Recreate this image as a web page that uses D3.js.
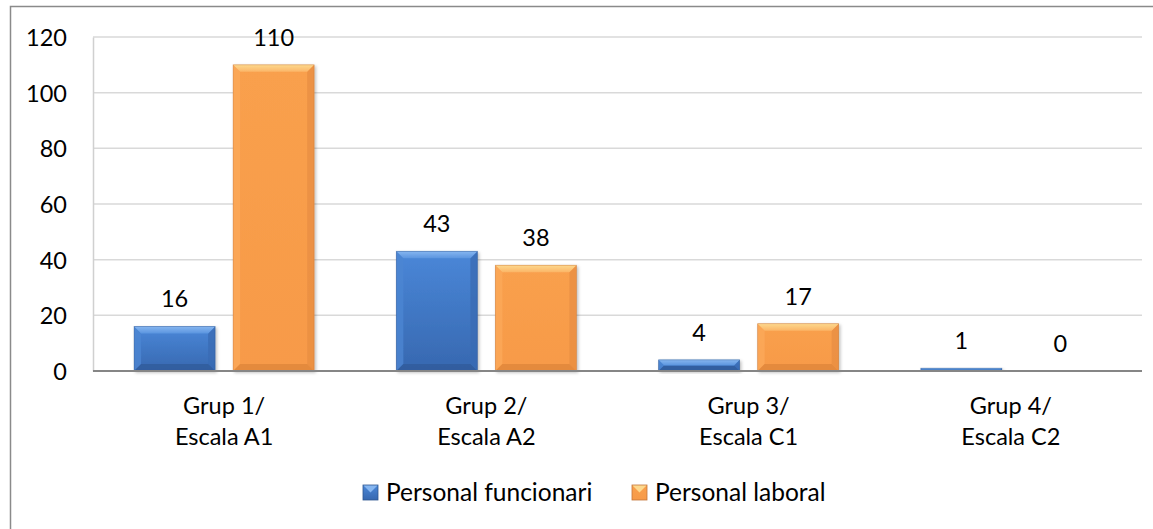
<!DOCTYPE html>
<html>
<head>
<meta charset="utf-8">
<script src="https://cdn.jsdelivr.net/npm/d3@7"></script>
<style>
  html, body { margin: 0; padding: 0; background: #fff; }
  svg { display: block; }
  text { font-family: Lato, "Open Sans", sans-serif; fill: #000; }
</style>
</head>
<body>
<svg id="chart" width="1153" height="529"></svg>
<script>
// Staff by group / scale
const categories = [
  ["Grup 1/", "Escala A1"],
  ["Grup 2/", "Escala A2"],
  ["Grup 3/", "Escala C1"],
  ["Grup 4/", "Escala C2"]
];
const seriesNames = ["Personal funcionari", "Personal laboral"];
const funcionari = [16, 43, 4, 1];
const laboral = [110, 38, 17, 0];
const yTicks = [0, 20, 40, 60, 80, 100, 120];

const palette = {
  "Personal funcionari": { top: "#4a87d8", bottom: "#3768b0", facetHi: "#86b6f0", facetHi2: "#5b95df",
                           dark: "#2f5c9c", left: "#4c86d2", right: "#3a6cb4", stroke: "#2d5690" },
  "Personal laboral":    { top: "#f9a04d", bottom: "#f79a48", facetHi: "#fdd98e", facetHi2: "#fbb567",
                           dark: "#e1873c", left: "#fba95a", right: "#e98f42", stroke: "#c4763a" }
};

const svg = d3.select("#chart");
const W = 1153, H = 529;
const plot = { left: 93, right: 1142, top: 37, bottom: 371 };

// Outer chart frame
svg.append("rect")
  .attr("x", 10.5).attr("y", 6.5)
  .attr("width", W + 10).attr("height", H + 10)
  .attr("fill", "#fff").attr("stroke", "#8a8a8a").attr("stroke-width", 1.5);

const defs = svg.append("defs");
const shadow = defs.append("filter").attr("id", "shadow")
  .attr("x", "-10%").attr("y", "-10%").attr("width", "130%").attr("height", "130%");
shadow.append("feDropShadow").attr("dx", 1.5).attr("dy", 1.5)
  .attr("stdDeviation", 1.5).attr("flood-color", "#000").attr("flood-opacity", 0.25);

seriesNames.forEach((name, k) => {
  const c = palette[name];
  const body = defs.append("linearGradient").attr("id", "body" + k)
    .attr("x1", 0).attr("y1", 0).attr("x2", 0).attr("y2", 1);
  body.append("stop").attr("offset", "0%").attr("stop-color", c.top);
  body.append("stop").attr("offset", "100%").attr("stop-color", c.bottom);
  const facet = defs.append("linearGradient").attr("id", "facet" + k)
    .attr("x1", 0).attr("y1", 0).attr("x2", 0).attr("y2", 1);
  facet.append("stop").attr("offset", "0%").attr("stop-color", c.facetHi);
  facet.append("stop").attr("offset", "100%").attr("stop-color", c.facetHi2);
});

const x0 = d3.scaleBand().domain(d3.range(categories.length))
  .range([plot.left, plot.right]).paddingInner(0).paddingOuter(0);
const x1 = d3.scaleBand().domain(seriesNames)
  .range([0, x0.bandwidth()]).paddingInner(0.182).paddingOuter(0.415);
const y = d3.scaleLinear().domain([0, 120]).range([plot.bottom, plot.top]);

// Horizontal gridlines
svg.append("g").selectAll("line").data(yTicks.filter(t => t > 0)).join("line")
  .attr("x1", plot.left).attr("x2", plot.right)
  .attr("y1", d => y(d)).attr("y2", d => y(d))
  .attr("stroke", "#d9d9d9").attr("stroke-width", 1.5);

// Y axis
const yAxis = d3.axisLeft(y).tickValues(yTicks).tickSize(0).tickPadding(26);
const gy = svg.append("g").attr("transform", `translate(${plot.left},0)`).call(yAxis);
gy.select(".domain").attr("stroke", "#d0d0d0").attr("stroke-width", 1.5);
gy.selectAll("text").attr("font-size", 23.5).attr("font-family", "Lato, sans-serif").attr("fill", "#000")
  .attr("dy", "0.36em");

// Bars with bevelled edges
const bevel = 7;
function drawBar(g, xPos, w, v, name, k) {
  const c = palette[name];
  const top = y(v), bot = y(0), h = bot - top;
  if (h <= 0) return;
  const b = Math.min(bevel, h / 2, w / 2);
  const bg = g.append("g").attr("filter", "url(#shadow)");
  bg.append("rect").attr("x", xPos).attr("y", top).attr("width", w).attr("height", h).attr("fill", `url(#body${k})`);
  const L = xPos, R = xPos + w, T = top, B = bot;
  bg.append("path").attr("d", `M${L},${T}L${L + b},${T + b}L${L + b},${B - b}L${L},${B}Z`).attr("fill", c.left).attr("opacity", 0.8);
  bg.append("path").attr("d", `M${R},${T}L${R - b},${T + b}L${R - b},${B - b}L${R},${B}Z`).attr("fill", c.right).attr("opacity", 0.8);
  bg.append("path").attr("d", `M${L},${B}L${R},${B}L${R - b},${B - b}L${L + b},${B - b}Z`).attr("fill", c.dark).attr("opacity", 0.85);
  bg.append("path").attr("d", `M${L},${T}L${R},${T}L${R - b},${T + b}L${L + b},${T + b}Z`).attr("fill", `url(#facet${k})`);
  bg.append("rect").attr("x", xPos).attr("y", top).attr("width", w).attr("height", h)
    .attr("fill", "none").attr("stroke", c.stroke).attr("stroke-width", 0.8).attr("stroke-opacity", 0.5);
}

const barsG = svg.append("g");
const labelsG = svg.append("g");
const seriesData = { "Personal funcionari": funcionari, "Personal laboral": laboral };
categories.forEach((cat, i) => {
  seriesNames.forEach((name, k) => {
    const v = seriesData[name][i];
    const xp = x0(i) + x1(name);
    drawBar(barsG, xp, x1.bandwidth(), v, name, k);
    labelsG.append("text")
      .attr("x", xp + x1.bandwidth() / 2)
      .attr("y", y(v) - 19)
      .attr("text-anchor", "middle")
      .attr("font-size", 23.5)
      .text(v);
  });
});

// X axis baseline
svg.append("line").attr("x1", plot.left).attr("x2", plot.right)
  .attr("y1", y(0)).attr("y2", y(0))
  .attr("stroke", "#868686").attr("stroke-width", 2);

// Category labels (two lines)
const xl = svg.append("g");
categories.forEach((cat, i) => {
  const t = xl.append("text")
    .attr("x", x0(i) + x0.bandwidth() / 2)
    .attr("y", 414)
    .attr("text-anchor", "middle")
    .attr("font-size", 23.5);
  cat.forEach((line, j) => {
    t.append("tspan").attr("x", x0(i) + x0.bandwidth() / 2).attr("dy", j === 0 ? 0 : 31).text(line);
  });
});

// Legend
const legend = svg.append("g");
const legendItems = [
  { name: seriesNames[0], x: 363 },
  { name: seriesNames[1], x: 632 }
];
legendItems.forEach((it, k) => {
  const c = palette[it.name];
  const s = 15, ly = 485;
  const g = legend.append("g");
  g.append("rect").attr("x", it.x).attr("y", ly).attr("width", s).attr("height", s).attr("fill", `url(#body${k})`);
  g.append("path").attr("d", `M${it.x},${ly}L${it.x + s},${ly}L${it.x + s / 2},${ly + s / 2}Z`).attr("fill", c.facetHi);
  g.append("rect").attr("x", it.x).attr("y", ly).attr("width", s).attr("height", s)
    .attr("fill", "none").attr("stroke", c.stroke).attr("stroke-width", 0.8);
  g.append("text").attr("x", it.x + s + 8).attr("y", ly + s / 2).attr("dy", "0.36em")
    .attr("font-size", 24.5).text(it.name);
});
</script>
</body>
</html>
